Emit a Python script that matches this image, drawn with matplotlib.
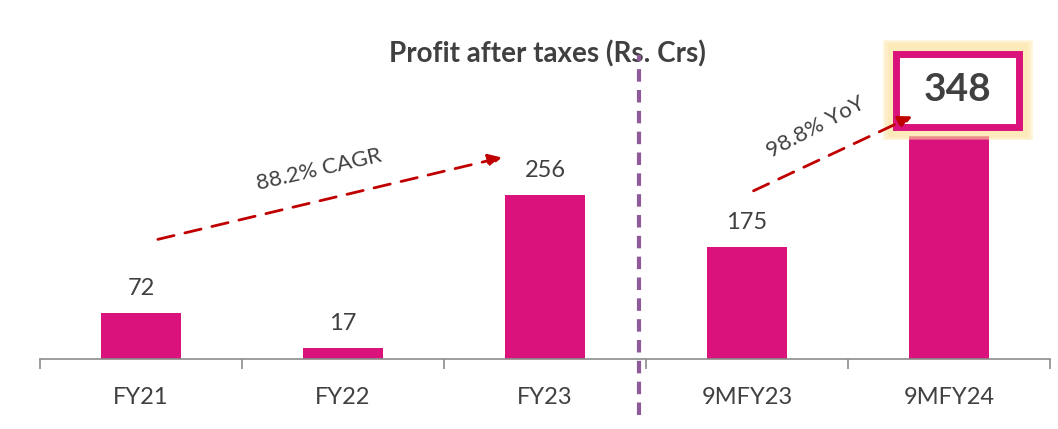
import numpy as np
import matplotlib.pyplot as plt
from matplotlib.patches import Rectangle

categories = ["FY21", "FY22", "FY23", "9MFY23", "9MFY24"]
values = [72, 17, 256, 175, 348]
label_texts = ["72", "17", "256", "175", "348"]

cagr_text = "88.2% CAGR"
yoy_text = "98.8% YoY"
title = "Profit after taxes (Rs. Crs)"

BAR = "#D9137B"
TXT = "#404040"
ARROW = "#C00000"

plt.rcParams["font.family"] = ["Lato", "DejaVu Sans"]

fig = plt.figure(figsize=(10.58, 4.29), dpi=100)
ax = fig.add_axes([0.0378, 0.163, 0.9546, 0.746])

x = np.arange(len(categories))
ax.bar(x, values, width=0.4, color=BAR, zorder=2)
ax.set_xlim(-0.5, 4.5)
ax.set_ylim(0, 500)

for xi, v, t in zip(x[:-1], values[:-1], label_texts[:-1]):
    ax.text(xi, v + 22, t, ha="center", va="bottom", fontsize=17, color=TXT)

# highlighted last value, soft yellow glow behind a pink frame
for pad, a in [(0.0, 0.35), (0.012, 0.35), (0.024, 0.3)]:
    ax.add_patch(Rectangle((3.673 + pad, 342 + pad * 200), 0.743 - 2 * pad,
                           156 - pad * 400, facecolor="#FDE3A0",
                           edgecolor="none", alpha=a, zorder=3, clip_on=False))
ax.add_patch(Rectangle((3.74, 363), 0.605, 114, facecolor="white",
                       edgecolor=BAR, linewidth=5, zorder=4, clip_on=False))
ax.text(4.04, 421, label_texts[-1], ha="center", va="center", fontsize=28,
        fontweight="bold", color=TXT, zorder=5)

# growth arrows
ax.annotate("", xy=(1.80, 316), xytext=(0.07, 186),
            arrowprops=dict(arrowstyle="-|>", color=ARROW, lw=2, ls=(0, (6, 4)),
                            mutation_scale=20), zorder=6)
ax.text(0.88, 295, cagr_text, rotation=13, ha="center", va="center",
        fontsize=16, color=TXT)
ax.annotate("", xy=(3.83, 381), xytext=(3.02, 261),
            arrowprops=dict(arrowstyle="-|>", color=ARROW, lw=2, ls=(0, (6, 4)),
                            mutation_scale=20), zorder=6)
ax.text(3.34, 362, yoy_text, rotation=28, ha="center", va="center",
        fontsize=16, color=TXT)

# divider
ax.axvline(2.465, ymin=-0.175, ymax=0.95, color="#8E5A9A", lw=3,
           ls=(0, (3, 2)), clip_on=False, zorder=6)

ax.text(0.502, 0.955, title, transform=ax.transAxes, fontsize=20,
        fontweight="bold", color=TXT, ha="center", va="center")

for s in ["top", "right", "left"]:
    ax.spines[s].set_visible(False)
ax.spines["bottom"].set_color("#8C8C8C")
ax.spines["bottom"].set_linewidth(1.2)
ax.set_yticks([])
ax.set_xticks(x)
ax.set_xticklabels(categories, fontsize=17, color=TXT)
ax.tick_params(axis="x", which="major", length=0, pad=20)
ax.set_xticks(np.arange(-0.5, 5, 1), minor=True)
ax.tick_params(axis="x", which="minor", length=7, color="#8C8C8C", width=1.2)

fig.savefig("out.png", dpi=100)
